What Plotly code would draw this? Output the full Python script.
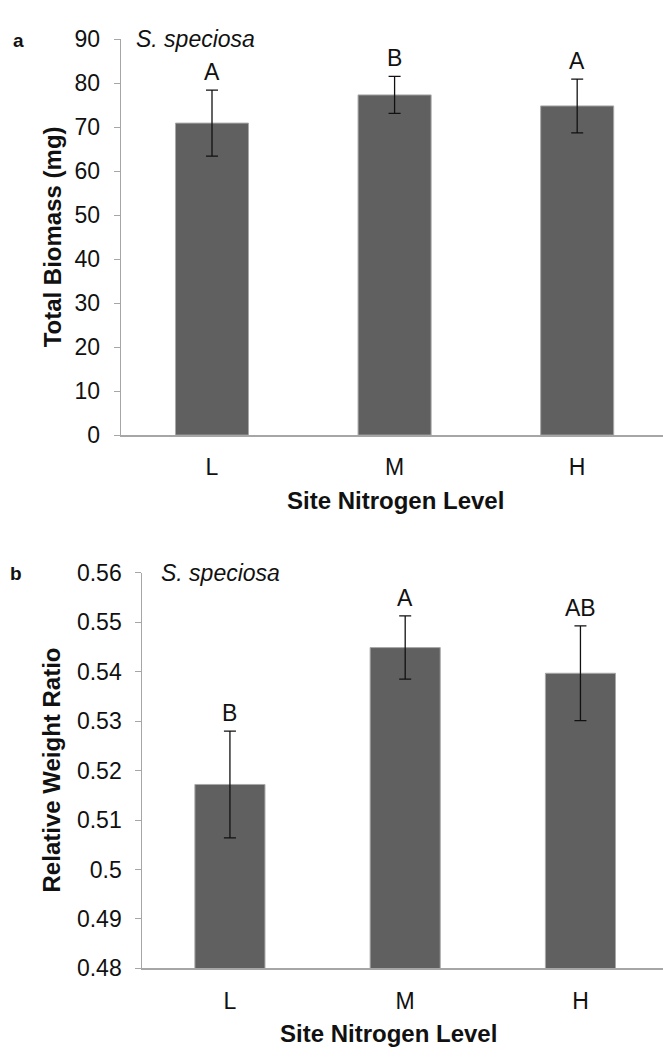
import plotly.graph_objects as go

# Site nitrogen categories
levels = ["L", "M", "H"]

# Panel a: total biomass (mg), means and error bars
biomass = [70.9, 77.3, 74.8]
biomass_err = [7.5, 4.2, 6.1]
biomass_groups = ["A", "B", "A"]

# Panel b: relative weight ratio, means and error bars
rwr = [0.5172, 0.5449, 0.5397]
rwr_err = [0.0108, 0.0064, 0.0096]
rwr_groups = ["B", "A", "AB"]

species = "S. speciosa"

W, H = 663, 1061
FONT = "Liberation Sans, Arial, sans-serif"
BAR = "#606060"
AXIS = "#a6a6a6"
TXT = "#111111"
TICK_SIZE = 23
TITLE_SIZE = 24


def px(x):
    return x / W


def py(y):
    return 1 - y / H


fig = go.Figure()

fig.add_trace(go.Bar(
    x=levels, y=biomass, width=0.4,
    marker=dict(color=BAR, line=dict(color="#a8a8a8", width=1)),
    error_y=dict(type="data", array=biomass_err, visible=True,
                 color="#111111", thickness=1.3, width=6),
    xaxis="x", yaxis="y", showlegend=False,
))
fig.add_trace(go.Bar(
    x=levels, y=rwr, width=0.4,
    marker=dict(color=BAR, line=dict(color="#a8a8a8", width=1)),
    error_y=dict(type="data", array=rwr_err, visible=True,
                 color="#111111", thickness=1.3, width=6),
    xaxis="x2", yaxis="y2", showlegend=False,
))

yax_common = dict(
    showline=True, linecolor=AXIS, linewidth=1, ticks="outside",
    ticklen=6, tickcolor=AXIS, showgrid=False, zeroline=False,
    tickfont=dict(family=FONT, size=TICK_SIZE, color=TXT), ticklabelstandoff=9,
)
xax_common = dict(
    showline=True, linecolor=AXIS, linewidth=1.5, ticks="",
    showgrid=False, zeroline=False,
    tickfont=dict(family=FONT, size=TICK_SIZE, color=TXT), ticklabelstandoff=11,
)

rwr_ticks = [0.48, 0.49, 0.5, 0.51, 0.52, 0.53, 0.54, 0.55, 0.56]

fig.update_layout(
    width=W, height=H,
    margin=dict(l=0, r=0, t=0, b=0),
    paper_bgcolor="white", plot_bgcolor="white",
    xaxis=dict(domain=[px(120.7), 1], range=[-0.5, 2.47], anchor="y", **xax_common),
    yaxis=dict(domain=[py(432.7), py(26.7)], range=[0, 90], dtick=10,
               anchor="x", **yax_common),
    xaxis2=dict(domain=[px(142.3), 1], range=[-0.5, 2.471], anchor="y2", **xax_common),
    yaxis2=dict(domain=[py(979.3), py(574)], range=[0.48, 0.56],
                tickvals=rwr_ticks, ticktext=[f"{v:g}" for v in rwr_ticks],
                anchor="x2", **yax_common),
    bargap=0.6,
)

ann = []
# significance letters above the error bars
for lv, m, e, g in zip(levels, biomass, biomass_err, biomass_groups):
    ann.append(dict(x=lv, y=m + e, xref="x", yref="y", text=g, showarrow=False,
                    yanchor="bottom", yshift=3, font=dict(family=FONT, size=TICK_SIZE, color=TXT)))
for lv, m, e, g in zip(levels, rwr, rwr_err, rwr_groups):
    ann.append(dict(x=lv, y=m + e, xref="x2", yref="y2", text=g, showarrow=False,
                    yanchor="bottom", yshift=3, font=dict(family=FONT, size=TICK_SIZE, color=TXT)))

# species names
ann.append(dict(x=px(134), y=py(27), xref="paper", yref="paper", text="<i>" + species + "</i>",
                showarrow=False, xanchor="left", yanchor="middle",
                font=dict(family=FONT, size=TICK_SIZE, color=TXT)))
ann.append(dict(x=px(159), y=py(574), xref="paper", yref="paper", text="<i>" + species + "</i>",
                showarrow=False, xanchor="left", yanchor="middle",
                font=dict(family=FONT, size=TICK_SIZE, color=TXT)))

# panel letters
ann.append(dict(x=px(18), y=py(28), xref="paper", yref="paper", text="<b>a</b>",
                showarrow=False, xanchor="center", yanchor="middle",
                font=dict(family=FONT, size=19, color=TXT)))
ann.append(dict(x=px(16), y=py(575), xref="paper", yref="paper", text="<b>b</b>",
                showarrow=False, xanchor="center", yanchor="middle",
                font=dict(family=FONT, size=19, color=TXT)))

# axis titles
ann.append(dict(x=px(52), y=py(230), xref="paper", yref="paper", text="<b>Total Biomass (mg)</b>",
                showarrow=False, textangle=-90, xanchor="center", yanchor="middle",
                font=dict(family=FONT, size=TITLE_SIZE, color=TXT)))
ann.append(dict(x=px(51), y=py(776.5), xref="paper", yref="paper", text="<b>Relative Weight Ratio</b>",
                showarrow=False, textangle=-90, xanchor="center", yanchor="middle",
                font=dict(family=FONT, size=TITLE_SIZE, color=TXT)))
ann.append(dict(x=px(395), y=py(500), xref="paper", yref="paper", text="<b>Site Nitrogen Level</b>",
                showarrow=False, xanchor="center", yanchor="middle",
                font=dict(family=FONT, size=TITLE_SIZE, color=TXT)))
ann.append(dict(x=px(388), y=py(1046.5), xref="paper", yref="paper", text="<b>Site Nitrogen Level</b>",
                showarrow=False, xanchor="center", yanchor="middle",
                font=dict(family=FONT, size=TITLE_SIZE, color=TXT)))

fig.update_layout(annotations=ann)

fig.write_html("out.html")
